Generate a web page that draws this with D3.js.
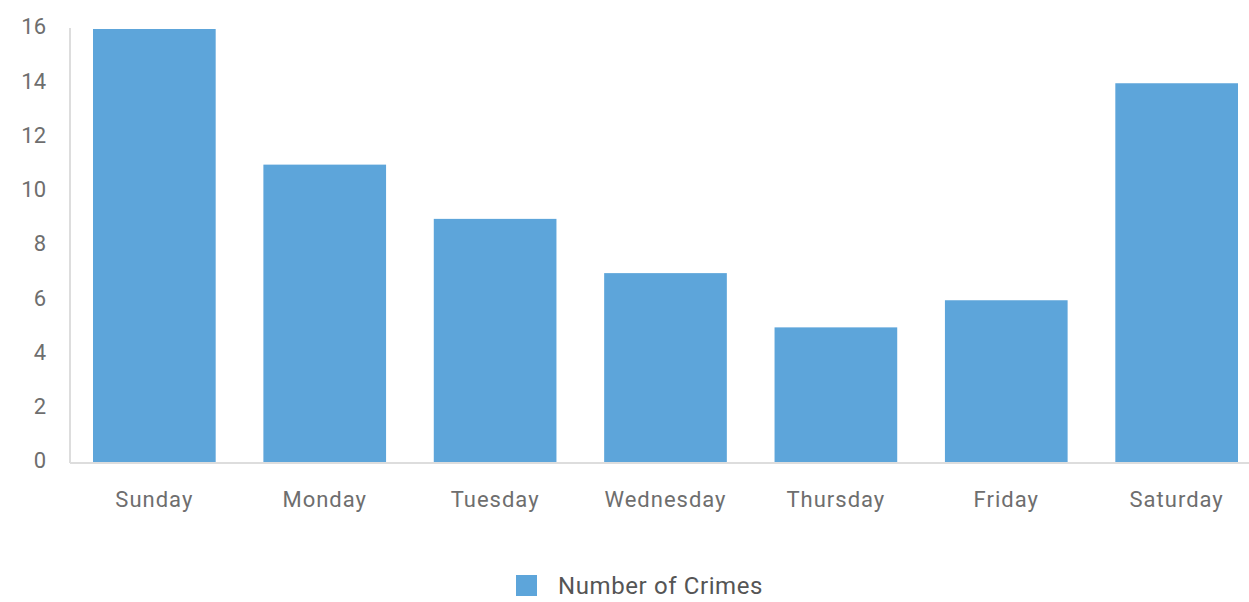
<!DOCTYPE html>
<html lang="en">
<head>
<meta charset="utf-8">
<title>Number of Crimes by Day</title>
<script src="https://d3js.org/d3.v7.min.js"></script>
<style>
  body { margin: 0; background: #fff; }
  text { font-family: Roboto, sans-serif; }
  .tick text { fill: #6e6e6e; font-size: 22px; }
  .x-axis .tick text { letter-spacing: 1px; }
</style>
</head>
<body>
<script>
var days = ["Sunday", "Monday", "Tuesday", "Wednesday", "Thursday", "Friday", "Saturday"];
var crimes = [16, 11, 9, 7, 5, 6, 14];
var yTicks = [0, 2, 4, 6, 8, 10, 12, 14, 16];
var seriesName = "Number of Crimes";

var width = 1249, height = 602;
var svg = d3.select("body").append("svg")
  .attr("width", width)
  .attr("height", height);

var x = d3.scaleBand()
  .domain(days)
  .range([70, 1261])
  .paddingInner(0.28)
  .paddingOuter(0.135);

var y = d3.scaleLinear()
  .domain([0, 16])
  .range([463, 29]);

// bars
svg.append("g")
  .selectAll("rect")
  .data(crimes)
  .enter().append("rect")
  .attr("x", (d, i) => x(days[i]))
  .attr("y", d => y(d))
  .attr("width", x.bandwidth())
  .attr("height", d => y(0) - y(d))
  .attr("fill", "#5da5da");

// y axis
var yAxis = svg.append("g")
  .attr("transform", "translate(70,0)")
  .call(d3.axisLeft(y).tickValues(yTicks).tickSize(0).tickPadding(24));
yAxis.select(".domain").attr("stroke", "#ddd").attr("stroke-width", 2)
  .attr("d", "M0," + (y(16) - 1) + "V" + y(0));
yAxis.selectAll(".tick text").attr("dy", "0.22em");

// x axis
var xAxis = svg.append("g")
  .attr("class", "x-axis")
  .attr("transform", "translate(0," + y(0) + ")")
  .call(d3.axisBottom(x).tickSize(0).tickPadding(28));
xAxis.select(".domain").attr("stroke", "#ddd").attr("stroke-width", 2)
  .attr("d", "M70,0H" + width);

// legend
var legend = svg.append("g").attr("transform", "translate(516,575)");
legend.append("rect")
  .attr("width", 21).attr("height", 21)
  .attr("fill", "#5da5da");
legend.append("text")
  .attr("x", 42).attr("y", 10.5)
  .attr("dy", "0.35em")
  .attr("fill", "#555")
  .style("font-size", "24px")
  .style("letter-spacing", "0.6px")
  .text(seriesName);
</script>
</body>
</html>
